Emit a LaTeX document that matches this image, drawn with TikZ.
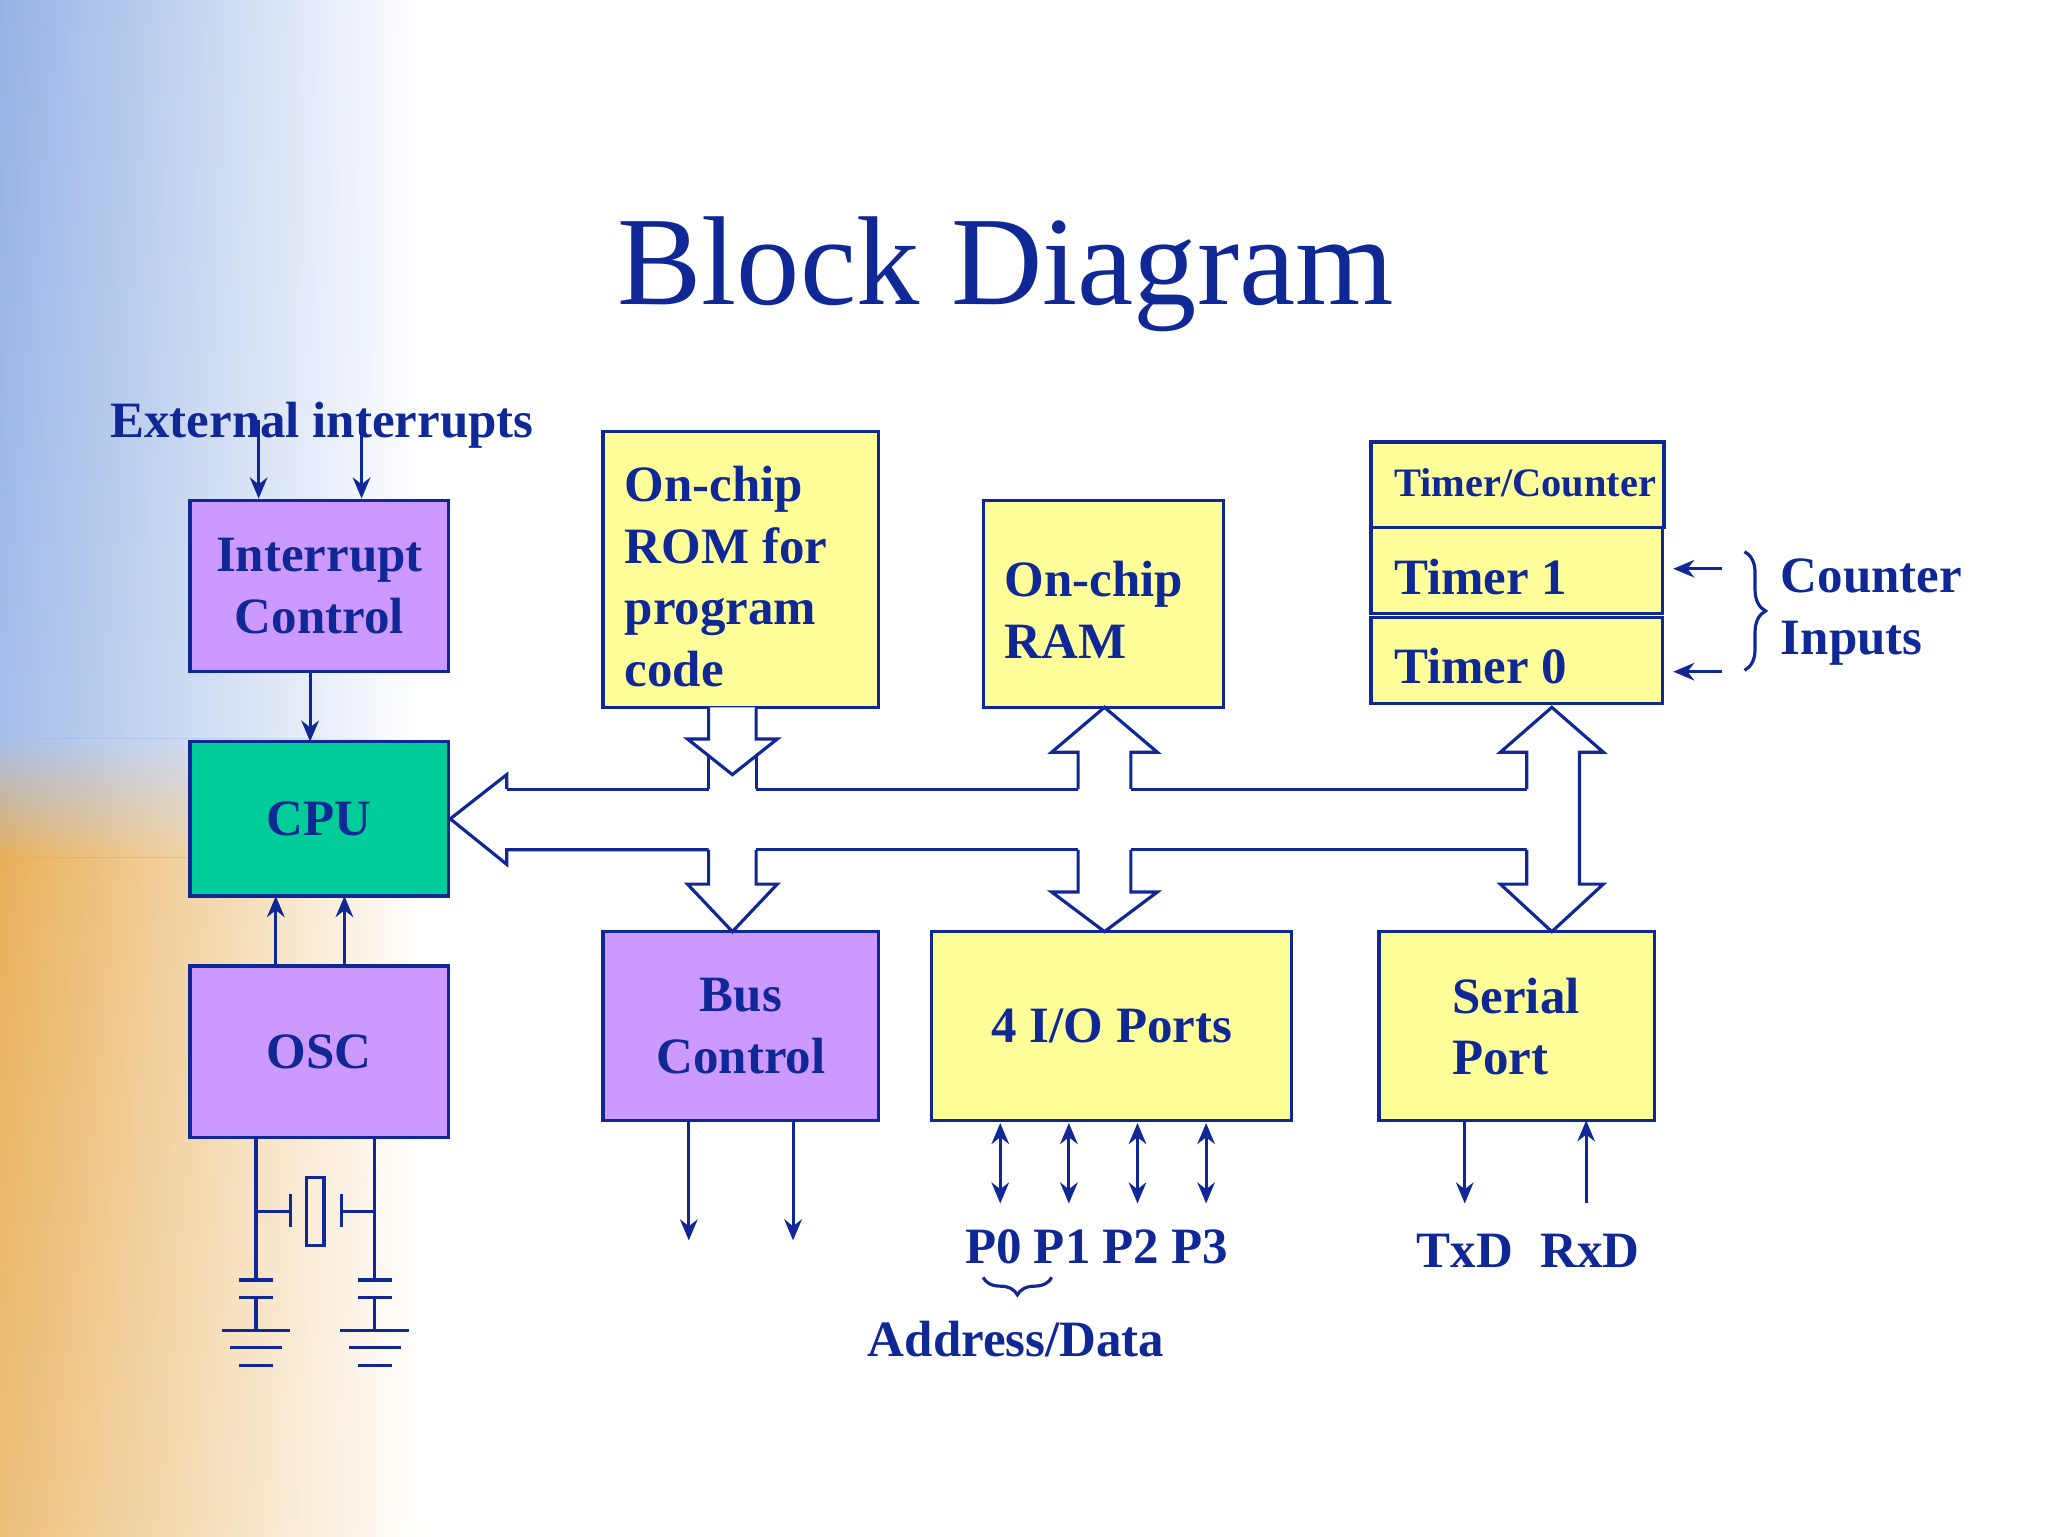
\documentclass[tikz,border=0pt]{standalone}
\usepackage{fontspec}
\setmainfont{Liberation Serif}
\usetikzlibrary{arrows.meta,fit,fadings,decorations.pathreplacing}

\definecolor{ink}{RGB}{16,40,150}
\definecolor{yel}{RGB}{255,255,153}
\definecolor{pur}{RGB}{204,153,255}
\definecolor{cpug}{RGB}{0,204,153}
\definecolor{bgblue}{RGB}{150,178,228}
\definecolor{bgorange}{RGB}{232,176,90}

\tikzset{
  blk/.style={draw=ink, line width=0.9pt, inner sep=0pt, text=ink,
    font=\bfseries\fontsize{14.5}{17.5}\selectfont, align=center},
  yblk/.style={blk, fill=yel},
  pblk/.style={blk, fill=pur},
  lbl/.style={text=ink, font=\bfseries\fontsize{14.5}{17.5}\selectfont, align=left, inner sep=0pt},
  sig/.style={draw=ink, line width=0.9pt, -{Stealth[length=6pt,width=5pt]}},
  dsig/.style={draw=ink, line width=0.9pt, {Stealth[length=6pt,width=5pt]}-{Stealth[length=6pt,width=5pt]}},
  bus/.style={draw=ink, line width=0.9pt, fill=white, line join=miter},
  wire/.style={draw=ink, line width=0.9pt}
}

\begin{document}
\begin{tikzpicture}[x=0.0132cm, y=-0.0132cm]
  \useasboundingbox (0,0) rectangle (1552,1164);
  % background strip
  \shade[top color=bgblue, bottom color=bgblue!85!white, path fading=east] (0,0) rectangle (320,560);
  \shade[top color=bgblue!85!white, bottom color=bgorange, path fading=east] (0,560) rectangle (320,650);
  \shade[top color=bgorange, bottom color=bgorange!80!white, path fading=east] (0,650) rectangle (320,1164);

  \node[text=ink, font=\fontsize{36}{40}\selectfont, inner sep=0pt] (title) at (762,208) {Block Diagram};

  % blocks
  \node[pblk, fit={(144,379) (340,509)}] (intc) {};
  \node[lbl, align=center] at (intc.center) {Interrupt\\Control};
  \node[blk, fill=cpug, fit={(144,562) (340,679)}] (cpu) {};
  \node[lbl] at (cpu.center) {CPU};
  \node[pblk, fit={(144,732) (340,862)}] (osc) {};
  \node[lbl] at (osc.center) {OSC};
  \node[yblk, fit={(457,327) (666,536)}] (rom) {};
  \node[lbl, anchor=west] at (473,437) {On-chip\\ROM for\\program\\code};
  \node[yblk, fit={(745,379) (927,536)}] (ram) {};
  \node[lbl, anchor=west] at (761,462) {On-chip\\RAM};
  \node[yblk, fit={(1039,335) (1261,400)}] (tc) {};
  \node[lbl, anchor=west, font=\bfseries\fontsize{11.5}{13}\selectfont] at (1056,366) {Timer/Counter};
  \node[yblk, fit={(1039,400) (1260,465)}] (t1) {};
  \node[lbl, anchor=west] at (1056,437) {Timer 1};
  \node[yblk, fit={(1039,468) (1260,533)}] (t0) {};
  \node[lbl, anchor=west] at (1056,505) {Timer 0};
  \node[pblk, fit={(457,706) (666,849)}] (busc) {};
  \node[lbl, align=center] at (busc.center) {Bus\\Control};
  \node[yblk, fit={(706,706) (979,849)}] (io) {};
  \node[lbl] at (io.center) {4 I/O Ports};
  \node[yblk, fit={(1045,706) (1254,849)}] (ser) {};
  \node[lbl, anchor=west] at (1100,778) {Serial\\Port};

  % bus
  \draw[bus] (537,536) -- (537,560) -- (521,560) -- (555,587) -- (589,560) -- (573,560) -- (573,536);
  \draw[wire] (537,573) -- (537,598) (573,573) -- (573,598);
  \draw[bus] (384,598) -- (384,587) -- (cpu.east) -- (384,655) -- (384,644) -- (537,644);
  \draw[wire] (384,598) -- (537,598) (573,598) -- (817,598) (857,598) -- (1157,598);
  \draw[wire] (573,644) -- (817,644) (857,644) -- (1157,644);
  \draw[bus] (537,644) -- (537,670) -- (521,670) -- (555,706) -- (589,670) -- (573,670) -- (573,644);
  \draw[bus] (817,598) -- (817,570) -- (797,570) -- (837,536) -- (877,570) -- (857,570) -- (857,598);
  \draw[bus] (817,644) -- (817,676) -- (797,676) -- (837,706) -- (877,676) -- (857,676) -- (857,644);
  \draw[bus] (1157,598) -- (1157,570) -- (1137,570) -- (1176,536) -- (1215,570) -- (1197,570)
    -- (1197,670) -- (1215,670) -- (1176,706) -- (1137,670) -- (1157,670) -- (1157,644);

  % interrupts
  \node[lbl] (ext) at (244,322) {External interrupts};
  \coordinate (e1) at (196,318);
  \coordinate (e2) at (274,318);
  \draw[sig] (e1) -- (e1 |- intc.north);
  \draw[sig] (e2) -- (e2 |- intc.north);
  \draw[sig] (235,509) -- (235,562);
  \draw[sig] (209,732) -- (209,679);
  \draw[sig] (261,732) -- (261,679);

  % crystal and grounds
  \draw[wire] (194,862) -- (194,970) (284,862) -- (284,970);
  \draw[wire] (194,918) -- (220,918) (220,905) -- (220,930);
  \draw[wire] (284,918) -- (259,918) (259,905) -- (259,930);
  \draw[wire] (232.5,892) rectangle (245.5,944);
  \foreach \gx in {194,284} {
    \draw[wire] (\gx-13,970) -- (\gx+13,970) (\gx-13,983) -- (\gx+13,983) (\gx,983) -- (\gx,1008);
    \draw[wire] (\gx-26,1008) -- (\gx+26,1008) (\gx-19.5,1021) -- (\gx+19.5,1021) (\gx-13,1035) -- (\gx+13,1035);
  }

  % bus control outputs
  \draw[sig] (522,849) -- (522,940);
  \draw[sig] (601,849) -- (601,940);

  % ports
  \foreach \px/\pn [count=\i] in {758/P0,810/P1,862/P2,914/P3} {
    \draw[dsig] (\px,851) -- (\px,912);
    \node[lbl] (p\i) at (\px-5,945) {\pn};
  }
  \draw[wire, decorate, decoration={brace, mirror, amplitude=5pt}] (745,968) -- (797,968);
  \node[lbl] (addr) at (770,1015) {Address/Data};

  % serial
  \node[lbl] (txd) at (1110,948) {TxD};
  \node[lbl] (rxd) at (1205,948) {RxD};
  \draw[sig] (1110,849) -- (1110,912);
  \draw[sig] (1202,912) -- (1202,849);

  % counter inputs
  \draw[sig] (1305,431) -- (1268,431);
  \draw[sig] (1305,509) -- (1268,509);
  \draw[wire, decorate, decoration={brace, amplitude=6pt}] (1322,418) -- (1322,508);
  \node[lbl, anchor=west] (cin) at (1349,464) {Counter\\Inputs};
\end{tikzpicture}
\end{document}
